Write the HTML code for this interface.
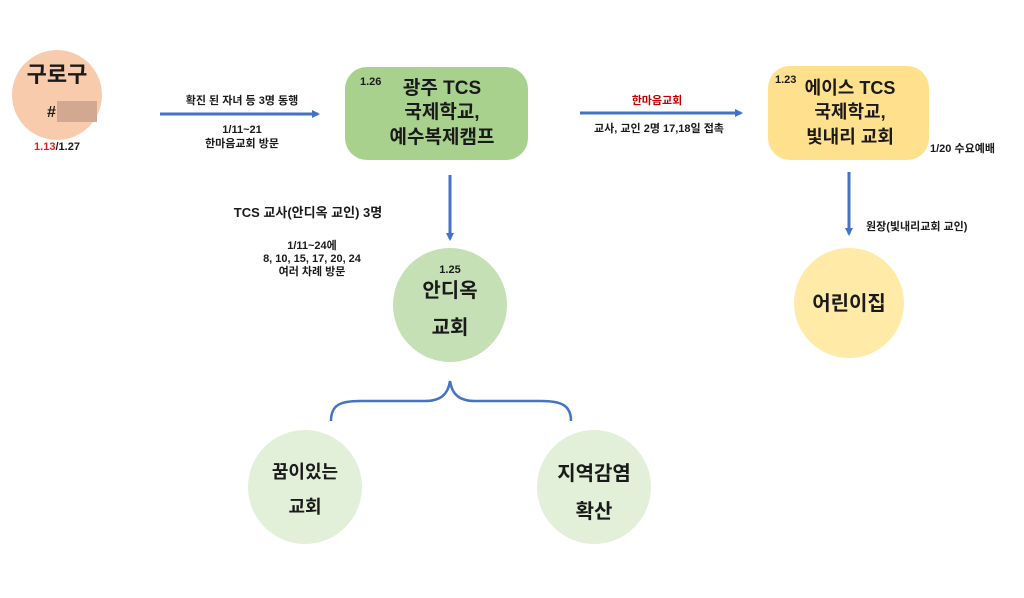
<!DOCTYPE html>
<html><head><meta charset="utf-8"><style>
html,body{margin:0;padding:0;background:#fff;}
svg{display:block}
text{font-family:"Liberation Sans","Noto Sans CJK KR",sans-serif;font-weight:bold;fill:#1a1a1a}
</style></head><body>
<svg width="1024" height="598" viewBox="0 0 1024 598" xmlns="http://www.w3.org/2000/svg">
<defs>
<marker id="ah" markerWidth="8" markerHeight="8" refX="6" refY="4" orient="auto" markerUnits="userSpaceOnUse"><path d="M0,0 L8,4 L0,8 z" fill="#4472c4"/></marker>
</defs>
<!-- 구로구 -->
<circle cx="57" cy="95" r="45" fill="#f8cbad"/>
<text x="57" y="82" font-size="22" text-anchor="middle">구로구</text>
<text x="47" y="117" font-size="16">#</text>
<rect x="57" y="101" width="40" height="21" fill="#d2a893"/>
<text x="57" y="150" font-size="11" text-anchor="middle"><tspan fill="#e02020">1.13</tspan>/1.27</text>
<!-- arrow 1 -->
<line x1="160" y1="114" x2="318" y2="114" stroke="#4472c4" stroke-width="3" marker-end="url(#ah)"/>
<text x="242" y="104" font-size="11" text-anchor="middle">확진 된 자녀 등 3명 동행</text>
<text x="242" y="133" font-size="11" text-anchor="middle">1/11~21</text>
<text x="242" y="147" font-size="11" text-anchor="middle">한마음교회 방문</text>
<!-- green box -->
<rect x="345" y="67" width="183" height="93" rx="22" fill="#a9d18e"/>
<text x="360" y="85" font-size="11">1.26</text>
<text x="442" y="94" font-size="19" text-anchor="middle">광주 TCS</text>
<text x="442" y="118" font-size="19" text-anchor="middle">국제학교,</text>
<text x="442" y="143" font-size="19" text-anchor="middle">예수복제캠프</text>
<!-- arrow 2 -->
<line x1="580" y1="113" x2="741" y2="113" stroke="#4472c4" stroke-width="3" marker-end="url(#ah)"/>
<text x="657" y="104" font-size="11" text-anchor="middle" style="fill:#c00000">한마음교회</text>
<text x="659" y="132" font-size="11" text-anchor="middle">교사, 교인 2명 17,18일 접촉</text>
<!-- yellow box -->
<rect x="768" y="66" width="161" height="94" rx="22" fill="#ffe08c"/>
<text x="775" y="83" font-size="11">1.23</text>
<text x="850" y="94" font-size="18" text-anchor="middle">에이스 TCS</text>
<text x="850" y="118" font-size="18" text-anchor="middle">국제학교,</text>
<text x="850" y="143" font-size="18" text-anchor="middle">빛내리 교회</text>
<text x="930" y="152" font-size="11">1/20 수요예배</text>
<!-- vertical arrow 1 -->
<line x1="450" y1="175" x2="450" y2="239" stroke="#4472c4" stroke-width="3" marker-end="url(#ah)"/>
<text x="308" y="217" font-size="13" text-anchor="middle">TCS 교사(안디옥 교인) 3명</text>
<text x="312" y="249" font-size="11" text-anchor="middle">1/11~24에</text>
<text x="312" y="262" font-size="11" text-anchor="middle">8, 10, 15, 17, 20, 24</text>
<text x="312" y="275" font-size="11" text-anchor="middle">여러 차례 방문</text>
<!-- 안디옥 -->
<circle cx="450" cy="305" r="57" fill="#c5e0b4"/>
<text x="450" y="273" font-size="11" text-anchor="middle">1.25</text>
<text x="450" y="297" font-size="20" text-anchor="middle">안디옥</text>
<text x="450" y="334" font-size="20" text-anchor="middle">교회</text>
<!-- vertical arrow 2 -->
<line x1="849" y1="172" x2="849" y2="234" stroke="#4472c4" stroke-width="3" marker-end="url(#ah)"/>
<text x="866" y="230" font-size="11">원장(빛내리교회 교인)</text>
<!-- 어린이집 -->
<circle cx="849" cy="303" r="55" fill="#ffe699" opacity="0.85"/>
<text x="849" y="310" font-size="20" text-anchor="middle">어린이집</text>
<!-- brace -->
<path d="M331,421 C331,405 340,401 360,401 L425,401 C440,401 448,395 450,381 C452,395 460,401 475,401 L541,401 C561,401 571,405 571,421" fill="none" stroke="#4472c4" stroke-width="2.5"/>
<!-- lower circles -->
<circle cx="305" cy="487" r="57" fill="#e2efd9"/>
<text x="305" y="478" font-size="18" text-anchor="middle">꿈이있는</text>
<text x="305" y="513" font-size="18" text-anchor="middle">교회</text>
<circle cx="594" cy="487" r="57" fill="#e2efd9"/>
<text x="594" y="480" font-size="20" text-anchor="middle">지역감염</text>
<text x="594" y="518" font-size="20" text-anchor="middle">확산</text>
</svg>
</body></html>
